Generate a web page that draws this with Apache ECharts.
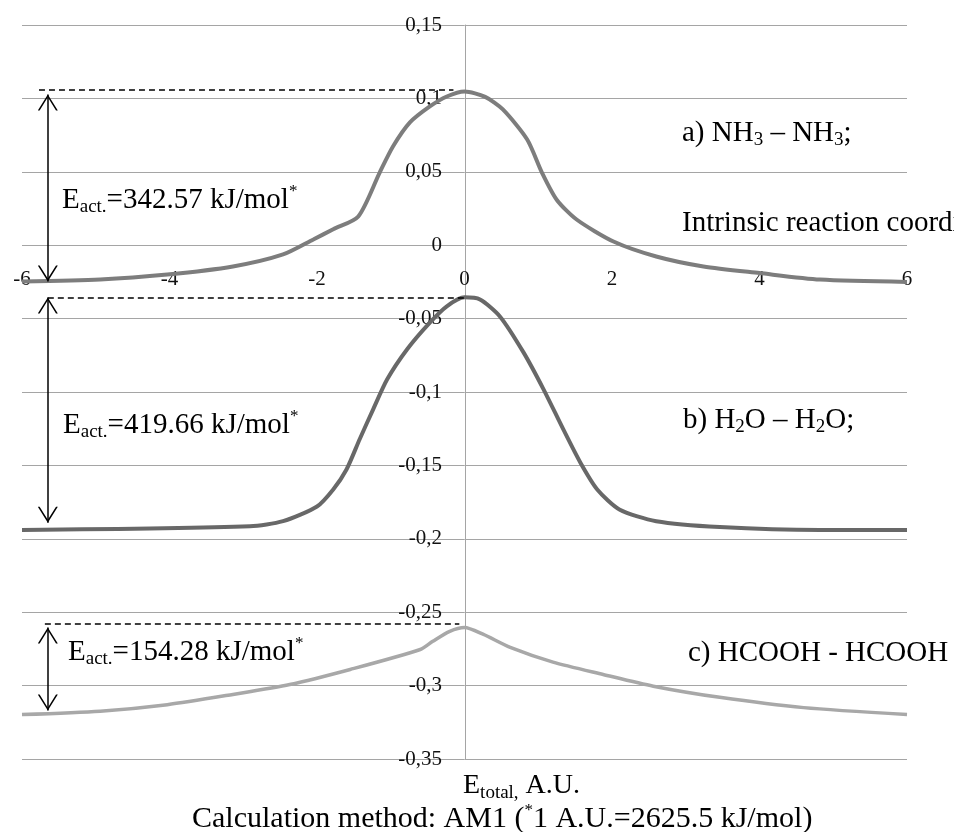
<!DOCTYPE html>
<html>
<head>
<meta charset="utf-8">
<script src="https://cdn.jsdelivr.net/npm/echarts@6/dist/echarts.min.js"></script>
<style>
  html, body { margin: 0; padding: 0; background: #fff; }
  #chart { width: 954px; height: 832px; }
</style>
</head>
<body>
<div id="chart"></div>
<script>
// intrinsic reaction coordinate / total energy (A.U.)
const ircA = [-6, -4.94, -4.03, -3.14, -2.46, -2.05, -1.78, -1.44, -1.15, -0.97, -0.74, -0.47, -0.24, 0, 0.28, 0.52, 0.85, 1.05, 1.25, 1.52, 2.02, 2.6, 3.24, 4.0, 4.82, 6];
const eA = [-0.0247, -0.0234, -0.020, -0.0145, -0.0063, 0.0039, 0.0109, 0.0196, 0.0495, 0.0672, 0.0836, 0.0945, 0.1013, 0.1047, 0.101, 0.0925, 0.072, 0.0495, 0.031, 0.0175, 0.0025, -0.0077, -0.0145, -0.019, -0.0234, -0.025];

const ircB = [-6, -2.91, -2.46, -2.0, -1.78, -1.6, -1.42, -1.24, -1.05, -0.78, -0.47, -0.24, 0, 0.21, 0.48, 0.8, 1.07, 1.34, 1.57, 1.8, 2.1, 2.6, 3.46, 4.82, 6];
const eB = [-0.194, -0.1914, -0.188, -0.178, -0.1664, -0.1528, -0.132, -0.112, -0.0915, -0.071, -0.0527, -0.0416, -0.0355, -0.037, -0.0485, -0.073, -0.098, -0.1255, -0.148, -0.1664, -0.18, -0.188, -0.192, -0.194, -0.194];

const ircC = [-6, -4.94, -4.03, -3.14, -2.37, -1.55, -0.6, -0.43, -0.2, 0, 0.25, 0.62, 1.2, 1.88, 2.56, 3.46, 4.6, 6];
const eC = [-0.3197, -0.3174, -0.313, -0.306, -0.2993, -0.289, -0.2754, -0.2698, -0.263, -0.2604, -0.265, -0.274, -0.284, -0.2924, -0.3004, -0.308, -0.315, -0.3197];

// barrier annotations (dashed level, arrow ends)
const dashLevel = [0.1061, -0.0356, -0.2578];
const dashFrom = [-5.77, -5.65, -5.69];
const dashTo = [-0.15, 0, -0.07];
const arrowX = -5.65;
const arrowBottom = [-0.0247, -0.189, -0.317];
const arrowTop = [0.1027, -0.0356, -0.2604];

const eAct = ['342.57', '419.66', '154.28'];

const serif = '"Liberation Serif", "Times New Roman", serif';
const lineColors = ['#7d7d7d', '#686868', '#a8a8a8'];
const gridColor = '#a5a5a5';

const pair = (xs, ys) => xs.map((x, i) => [x, ys[i]]);

// open arrow head, tip at the centre of the box so it lands on the line end
const chevron = 'path://M0 0 L0.01 0 L0 0.01 Z M32 32 L31.99 32 L32 31.99 Z ' +
  'M16 16 L26 32 L24.2 32 L16 18.9 L7.8 32 L6 32 Z';

const rich = {
  m: { fontSize: 29, fontFamily: serif, color: '#000', lineHeight: 34 },
  s: { fontSize: 19, fontFamily: serif, color: '#000', lineHeight: 14, verticalAlign: 'bottom' },
  p: { fontSize: 17, fontFamily: serif, color: '#000', lineHeight: 18, verticalAlign: 'top' }
};

function txt(x, y, text, size) {
  const r = JSON.parse(JSON.stringify(rich));
  if (size) r.m.fontSize = size;
  return {
    type: 'text', x: x, y: y, silent: true, z: 10,
    style: { text: text, rich: r, align: 'left', verticalAlign: 'middle', fill: '#000' }
  };
}

const chart = echarts.init(document.getElementById('chart'));

const curves = [[ircA, eA], [ircB, eB], [ircC, eC]];

const series = curves.map((c, i) => ({
  type: 'line',
  xAxisIndex: 0, yAxisIndex: 0,
  data: pair(c[0], c[1]),
  showSymbol: false,
  smooth: 0.25,
  lineStyle: { color: lineColors[i], width: i === 2 ? 3.5 : 4 },
  silent: true,
  markLine: {
    silent: true,
    symbol: ['none', 'none'],
    label: { show: false },
    lineStyle: { color: '#000', width: 1.5, type: [6, 4] },
    data: [[{ coord: [dashFrom[i], dashLevel[i]] }, { coord: [dashTo[i], dashLevel[i]] }]]
  }
}));

series.push({
  type: 'line',
  xAxisIndex: 0, yAxisIndex: 0,
  data: [],
  silent: true,
  markLine: {
    silent: true,
    symbol: [chevron, chevron],
    symbolSize: 32,
    label: { show: false },
    lineStyle: { color: '#000', width: 1.5, type: 'solid' },
    data: arrowTop.map((t, i) => [{ coord: [arrowX, arrowBottom[i]] }, { coord: [arrowX, t] }])
  }
});

const hiddenX = {
  type: 'value', min: -6, max: 6, interval: 2,
  axisLine: { show: false }, axisTick: { show: false },
  axisLabel: { show: false }, splitLine: { show: false }
};

chart.setOption({
  animation: false,
  backgroundColor: '#fff',
  grid: [
    // plot area
    { left: 22, right: 47, top: 25, bottom: 73, outerBoundsMode: 'none' },
    // carries the x labels, which sit just under the 0 line
    { left: 22, right: 47, top: 0, height: 262, outerBoundsMode: 'none' },
    // carries the y axis, which crosses at x = 0
    { left: 465, right: 47, top: 25, bottom: 73, outerBoundsMode: 'none' }
  ],
  xAxis: [
    Object.assign({ gridIndex: 0 }, hiddenX),
    {
      type: 'value', gridIndex: 1, min: -6, max: 6, interval: 2, position: 'bottom',
      axisLine: { show: false }, axisTick: { show: false }, splitLine: { show: false },
      axisLabel: { margin: 7, fontSize: 21, fontFamily: serif, color: '#111' }
    },
    Object.assign({ gridIndex: 2 }, hiddenX, { min: 0, max: 6 })
  ],
  yAxis: [
    {
      type: 'value', gridIndex: 0, min: -0.35, max: 0.15, interval: 0.05,
      axisLine: { show: false }, axisTick: { show: false }, axisLabel: { show: false },
      splitLine: { show: true, lineStyle: { color: gridColor, width: 1 } }
    },
    { type: 'value', gridIndex: 1, min: 0, max: 1, show: false },
    {
      type: 'value', gridIndex: 2, min: -0.35, max: 0.15, interval: 0.05, position: 'left',
      axisLine: { show: true, onZero: false, lineStyle: { color: gridColor, width: 1 } },
      axisTick: { show: false },
      splitLine: { show: false },
      axisLabel: {
        margin: 23, fontSize: 21, fontFamily: serif, color: '#111',
        formatter: v => String(Math.round(v * 100) / 100).replace('.', ',')
      }
    }
  ],
  series: series,
  graphic: [
    txt(62, 200, '{m|E}{s|act.}{m|=' + eAct[0] + ' kJ/mol}{p|*}'),
    txt(63, 425, '{m|E}{s|act.}{m|=' + eAct[1] + ' kJ/mol}{p|*}'),
    txt(68, 652, '{m|E}{s|act.}{m|=' + eAct[2] + ' kJ/mol}{p|*}'),
    txt(682, 133, '{m|a) NH}{s|3}{m| – NH}{s|3}{m|;}'),
    txt(682, 223, '{m|Intrinsic reaction coordinate}'),
    txt(683, 420, '{m|b) H}{s|2}{m|O – H}{s|2}{m|O;}'),
    txt(688, 653, '{m|c) HCOOH - HCOOH}'),
    txt(463, 786, '{m|E}{s|total,}{m| A.U.}', 28),
    txt(192, 819, '{m|Calculation method: AM1 (}{p|*}{m|1 A.U.=2625.5 kJ/mol)}', 30)
  ]
});
</script>
</body>
</html>
